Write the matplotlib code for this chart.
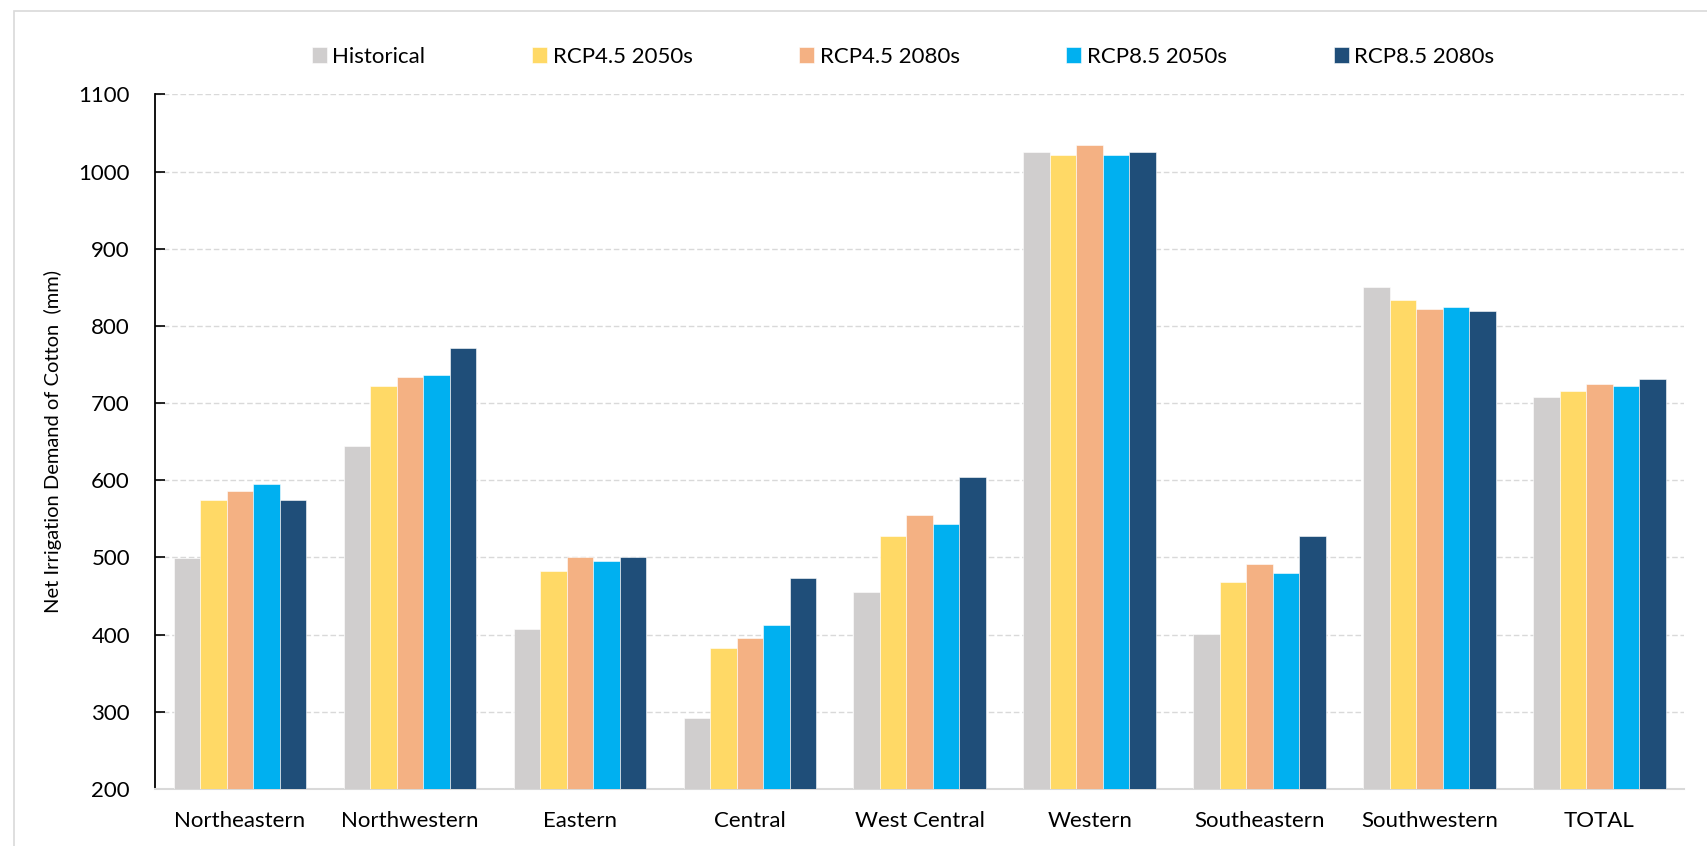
import matplotlib.pyplot as plt
import matplotlib.patches as mpatches
import numpy as np

# net irrigation demand of cotton per region (mm)
regions = ['Northeastern', 'Northwestern', 'Eastern', 'Central', 'West Central',
           'Western', 'Southeastern', 'Southwestern', 'TOTAL']
historical = [499, 644, 407, 292, 455, 1025, 401, 850, 708]
rcp45_2050s = [574, 722, 483, 383, 528, 1022, 468, 834, 716]
rcp45_2080s = [586, 734, 501, 395, 555, 1034, 492, 822, 725]
rcp85_2050s = [595, 737, 495, 413, 543, 1022, 480, 825, 722]
rcp85_2080s = [574, 771, 501, 474, 604, 1025, 528, 820, 731]

series_names = ['Historical', 'RCP4.5 2050s', 'RCP4.5 2080s', 'RCP8.5 2050s', 'RCP8.5 2080s']
colors = ['#D0CECE', '#FFD966', '#F4B183', '#00B0F0', '#1F4E79']

plt.rcParams['font.family'] = ['Lato', 'DejaVu Sans']

fig = plt.figure(figsize=(17.07, 8.46), dpi=100)
ax = fig.add_axes([0.0908, 0.0674, 0.896, 0.821])

# light frame round the chart area
fig.patches.append(mpatches.Rectangle((14 / 1707, -0.05), 1.1, 1.05 - 11 / 846,
                                      transform=fig.transFigure, fill=False,
                                      edgecolor='#D9D9D9', linewidth=1.2))

x = np.arange(len(regions))
width = 0.156
all_series = [historical, rcp45_2050s, rcp45_2080s, rcp85_2050s, rcp85_2080s]
for i, (vals, name, col) in enumerate(zip(all_series, series_names, colors)):
    ax.bar(x + (i - 2) * width, np.array(vals) - 200, width, bottom=200, color=col,
           label=name, edgecolor='white', linewidth=0.4, zorder=3)

ax.set_xlim(-0.5, len(regions) - 0.5)
ax.set_ylim(200, 1100)
ax.set_yticks(range(200, 1101, 100))
ax.set_xticks(x)
ax.set_xticklabels(regions, fontsize=16)
ax.tick_params(axis='y', labelsize=16, length=7, width=1.2, direction='in', pad=18)
ax.tick_params(axis='x', length=0, pad=16)
ax.yaxis.grid(True, linestyle=(0, (4, 2)), color='#D9D9D9', linewidth=1, zorder=0)
ax.set_axisbelow(True)

for s in ['top', 'right']:
    ax.spines[s].set_visible(False)
ax.spines['left'].set_color('black')
ax.spines['left'].set_linewidth(1.3)
ax.spines['bottom'].set_color('#D9D9D9')
ax.spines['bottom'].set_linewidth(1.5)

ax.set_ylabel('Net Irrigation Demand of Cotton  (mm)', fontsize=14.5, labelpad=12)

fig.legend(loc='center', bbox_to_anchor=(0.529, 0.933), ncol=5, frameon=False,
           fontsize=16, handlelength=0.68, handleheight=0.68, handletextpad=0.25,
           columnspacing=4.8)

fig.savefig('out.png', dpi=100)
